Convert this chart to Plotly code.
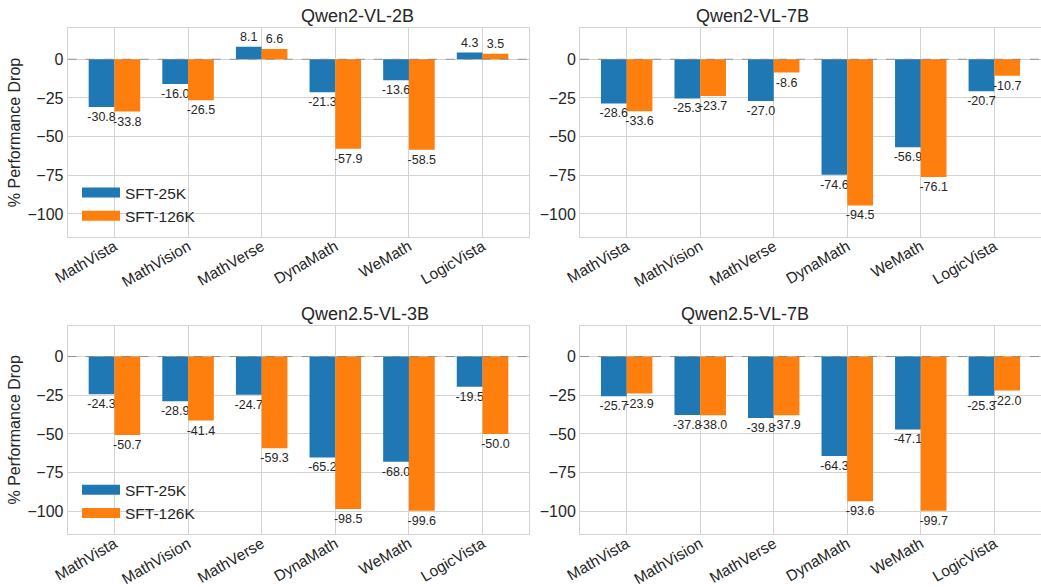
import plotly.graph_objects as go

categories = ["MathVista", "MathVision", "MathVerse", "DynaMath", "WeMath", "LogicVista"]
models = ["Qwen2-VL-2B", "Qwen2-VL-7B", "Qwen2.5-VL-3B", "Qwen2.5-VL-7B"]
series_names = ["SFT-25K", "SFT-126K"]

q2_2b_25k = [-30.8, -16.0, 8.1, -21.3, -13.6, 4.3]
q2_2b_126k = [-33.8, -26.5, 6.6, -57.9, -58.5, 3.5]
q2_7b_25k = [-28.6, -25.3, -27.0, -74.6, -56.9, -20.7]
q2_7b_126k = [-33.6, -23.7, -8.6, -94.5, -76.1, -10.7]
q25_3b_25k = [-24.3, -28.9, -24.7, -65.2, -68.0, -19.5]
q25_3b_126k = [-50.7, -41.4, -59.3, -98.5, -99.6, -50.0]
q25_7b_25k = [-25.7, -37.8, -39.8, -64.3, -47.1, -25.3]
q25_7b_126k = [-23.9, -38.0, -37.9, -93.6, -99.7, -22.0]

y_ticks = [0, -25, -50, -75, -100]

panel_data = [
    (q2_2b_25k, q2_2b_126k),
    (q2_7b_25k, q2_7b_126k),
    (q25_3b_25k, q25_3b_126k),
    (q25_7b_25k, q25_7b_126k),
]

W, H = 1041, 587
colors = ["#1f77b4", "#ff7f0e"]
TXT = "#262626"
GRID = "#d3d3d3"
FONT = "Liberation Sans, Arial, sans-serif"

# pixel geometry of the panels
xdoms = [(67.7 / W, 529.3 / W), (580.0 / W, 1.0)]
ydoms = [(1 - 236.7 / H, 1 - 28.3 / H), (1 - 534.0 / H, 1 - 325.6 / H)]

fig = go.Figure()

for i, (s25, s126) in enumerate(panel_data):
    r, c = divmod(i, 2)
    idx = "" if i == 0 else str(i + 1)
    xa, ya = "x" + idx, "y" + idx
    for k, vals in enumerate([s25, s126]):
        fig.add_trace(go.Bar(
            x=categories, y=vals, name=series_names[k],
            marker=dict(color=colors[k], line=dict(width=0)),
            text=[f"{v:.1f}" for v in vals], textposition="outside",
            textfont=dict(size=12.5, color=TXT, family=FONT),
            constraintext="none", cliponaxis=False,
            showlegend=False, xaxis=xa, yaxis=ya, hoverinfo="skip",
        ))
    fig.update_layout(**{
        "xaxis" + idx: dict(
            domain=list(xdoms[c]), anchor=ya, type="category",
            range=[-0.635, 5.635], showgrid=True, gridcolor=GRID, gridwidth=1,
            showline=True, mirror=True, linecolor=GRID, linewidth=1,
            ticks="", tickangle=-30, tickfont=dict(size=15.5, color=TXT, family=FONT),
            ticklabelstandoff=-6,
            zeroline=False, automargin=False,
        ),
        "yaxis" + idx: dict(
            domain=list(ydoms[r]), anchor=xa, range=[-114.7, 20.0],
            tickvals=y_ticks, showgrid=True, gridcolor=GRID, gridwidth=1,
            showline=True, mirror=True, linecolor=GRID, linewidth=1,
            ticks="", tickfont=dict(size=16, color=TXT, family=FONT),
            zeroline=False, automargin=False,
            title=dict(text="% Performance Drop" if c == 0 else "",
                       font=dict(size=16, color=TXT, family=FONT), standoff=2),
        ),
    })
    # dashed zero reference line
    fig.add_shape(type="line", xref=xa + " domain", yref=ya, x0=0, x1=1, y0=0, y1=0,
                  line=dict(color="#808080", width=0.8, dash="dash"))
    # panel title
    fig.add_annotation(text=models[i], xref="paper", yref="paper",
                       x=(xdoms[c][0] + xdoms[c][1]) / 2, y=ydoms[r][1],
                       yanchor="bottom", yshift=0, showarrow=False,
                       font=dict(size=18, color=TXT, family=FONT))

# legend proxies (top-left and bottom-left panels)
for lg in ["legend", "legend2"]:
    for k in range(2):
        fig.add_trace(go.Scatter(
            x=[None], y=[None], mode="lines", name=series_names[k],
            line=dict(color=colors[k], width=12), legend=lg,
            xaxis="x", yaxis="y", showlegend=True,
        ))

legend_common = dict(font=dict(size=15.5, color=TXT, family=FONT), bgcolor="rgba(0,0,0,0)",
                     borderwidth=0, xanchor="left", yanchor="top", itemwidth=38,
                     tracegroupgap=0)

fig.update_layout(
    width=W, height=H, autosize=False,
    margin=dict(l=0, r=0, t=0, b=0),
    paper_bgcolor="white", plot_bgcolor="white",
    barmode="group", bargap=0.3, bargroupgap=0,
    font=dict(family=FONT, color=TXT),
    hovermode=False,
    legend=dict(x=77 / W, y=1 - 176 / H, **legend_common),
    legend2=dict(x=77 / W, y=1 - (176 + 297.3) / H, **legend_common),
)

fig.write_html("out.html", config={"displayModeBar": False},
               post_script="document.body.style.margin='0';document.body.style.overflow='hidden';")
